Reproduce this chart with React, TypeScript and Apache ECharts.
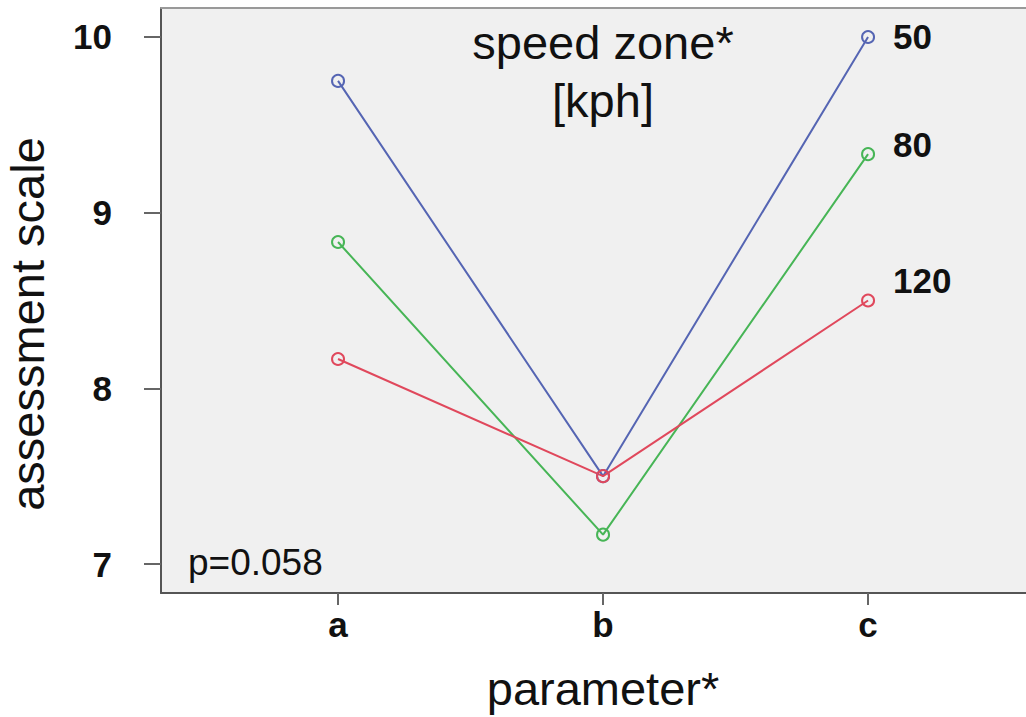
import React, { useEffect, useRef } from "react";
import * as echarts from "echarts";

const categories = ["a", "b", "c"];
const seriesNames = ["50", "80", "120"];
const speed50 = [9.75, 7.5, 10.0];
const speed80 = [8.833, 7.167, 9.333];
const speed120 = [8.167, 7.5, 8.5];
const yTicks = [7, 8, 9, 10];
const colors = ["#5565b3", "#47b556", "#e0485c"];
const labelOffsets = [[0, 0], [0, -10], [0, -20]];

export default function App() {
  const ref = useRef<HTMLDivElement>(null);
  useEffect(() => {
    if (!ref.current) return;
    const chart = echarts.init(ref.current, null, { renderer: "svg" });
    const font = "'Liberation Sans', Arial, sans-serif";
    const allSeries = [speed50, speed80, speed120];
    const series = allSeries.map((vals, si) => ({
      type: "line",
      name: seriesNames[si],
      symbol: "circle",
      symbolSize: 12,
      lineStyle: { color: colors[si], width: 2 },
      itemStyle: { color: "rgba(0,0,0,0)", borderColor: colors[si], borderWidth: 2 },
      data: vals.map((v, i) =>
        i === vals.length - 1
          ? {
              value: [i, v],
              label: {
                show: true,
                position: "right",
                distance: 18,
                offset: labelOffsets[si],
                formatter: seriesNames[si],
                fontFamily: font,
                fontWeight: "bold",
                fontSize: 35,
                color: "#111",
              },
            }
          : { value: [i, v] }
      ),
    }));
    const xMin = -0.668;
    const xMax = 2.596;
    chart.setOption({
      animation: false,
      backgroundColor: "#ffffff",
      grid: {
        left: 161,
        top: 8,
        right: 0,
        bottom: 124,
        show: true,
        backgroundColor: "#f0f0f0",
        borderWidth: 0,
      },
      xAxis: [
        {
          type: "value",
          min: xMin,
          max: xMax,
          splitLine: { show: false },
          axisLine: { show: true, onZero: false, lineStyle: { color: "#555", width: 2 } },
          axisTick: {
            show: true,
            length: 12,
            customValues: [0, 1, 2],
            lineStyle: { color: "#666", width: 2 },
          },
          axisLabel: {
            customValues: [0, 1, 2],
            formatter: (v: number) => categories[Math.round(v)] ?? "",
            fontFamily: font,
            fontWeight: "bold",
            fontSize: 35,
            color: "#111",
            margin: 14,
          },
        },
        {
          type: "value",
          position: "top",
          min: xMin,
          max: xMax,
          splitLine: { show: false },
          axisLine: { show: true, onZero: false, lineStyle: { color: "#999", width: 2 } },
          axisTick: { show: false },
          axisLabel: { show: false },
        },
      ],
      yAxis: {
        type: "value",
        min: 6.835,
        max: 10.165,
        splitLine: { show: false },
        axisLine: { show: true, onZero: false, lineStyle: { color: "#555", width: 2 } },
        axisTick: {
          show: true,
          length: 17,
          customValues: yTicks,
          lineStyle: { color: "#666", width: 2 },
        },
        axisLabel: {
          customValues: yTicks,
          fontFamily: font,
          fontWeight: "bold",
          fontSize: 35,
          color: "#111",
          margin: 49,
        },
      },
      graphic: [
        {
          type: "text",
          x: 603,
          y: 42,
          style: {
            text: "speed zone*",
            fontFamily: font,
            fontSize: 47,
            fill: "#111",
            align: "center",
            verticalAlign: "middle",
          },
        },
        {
          type: "text",
          x: 603,
          y: 100,
          style: {
            text: "[kph]",
            fontFamily: font,
            fontSize: 47,
            fill: "#111",
            align: "center",
            verticalAlign: "middle",
          },
        },
        {
          type: "text",
          x: 188,
          y: 562,
          style: {
            text: "p=0.058",
            fontFamily: font,
            fontSize: 37,
            fill: "#111",
            align: "left",
            verticalAlign: "middle",
          },
        },
        {
          type: "text",
          x: 603,
          y: 688,
          style: {
            text: "parameter*",
            fontFamily: font,
            fontSize: 47,
            fill: "#111",
            align: "center",
            verticalAlign: "middle",
          },
        },
        {
          type: "text",
          x: 27,
          y: 324,
          rotation: Math.PI / 2,
          style: {
            text: "assessment scale",
            fontFamily: font,
            fontSize: 47,
            fill: "#111",
            align: "center",
            verticalAlign: "middle",
          },
        },
      ],
      series,
    });
    return () => chart.dispose();
  }, []);
  return (
    <div
      ref={ref}
      style={{ position: "fixed", left: 0, top: 0, width: 1026, height: 717 }}
    />
  );
}
